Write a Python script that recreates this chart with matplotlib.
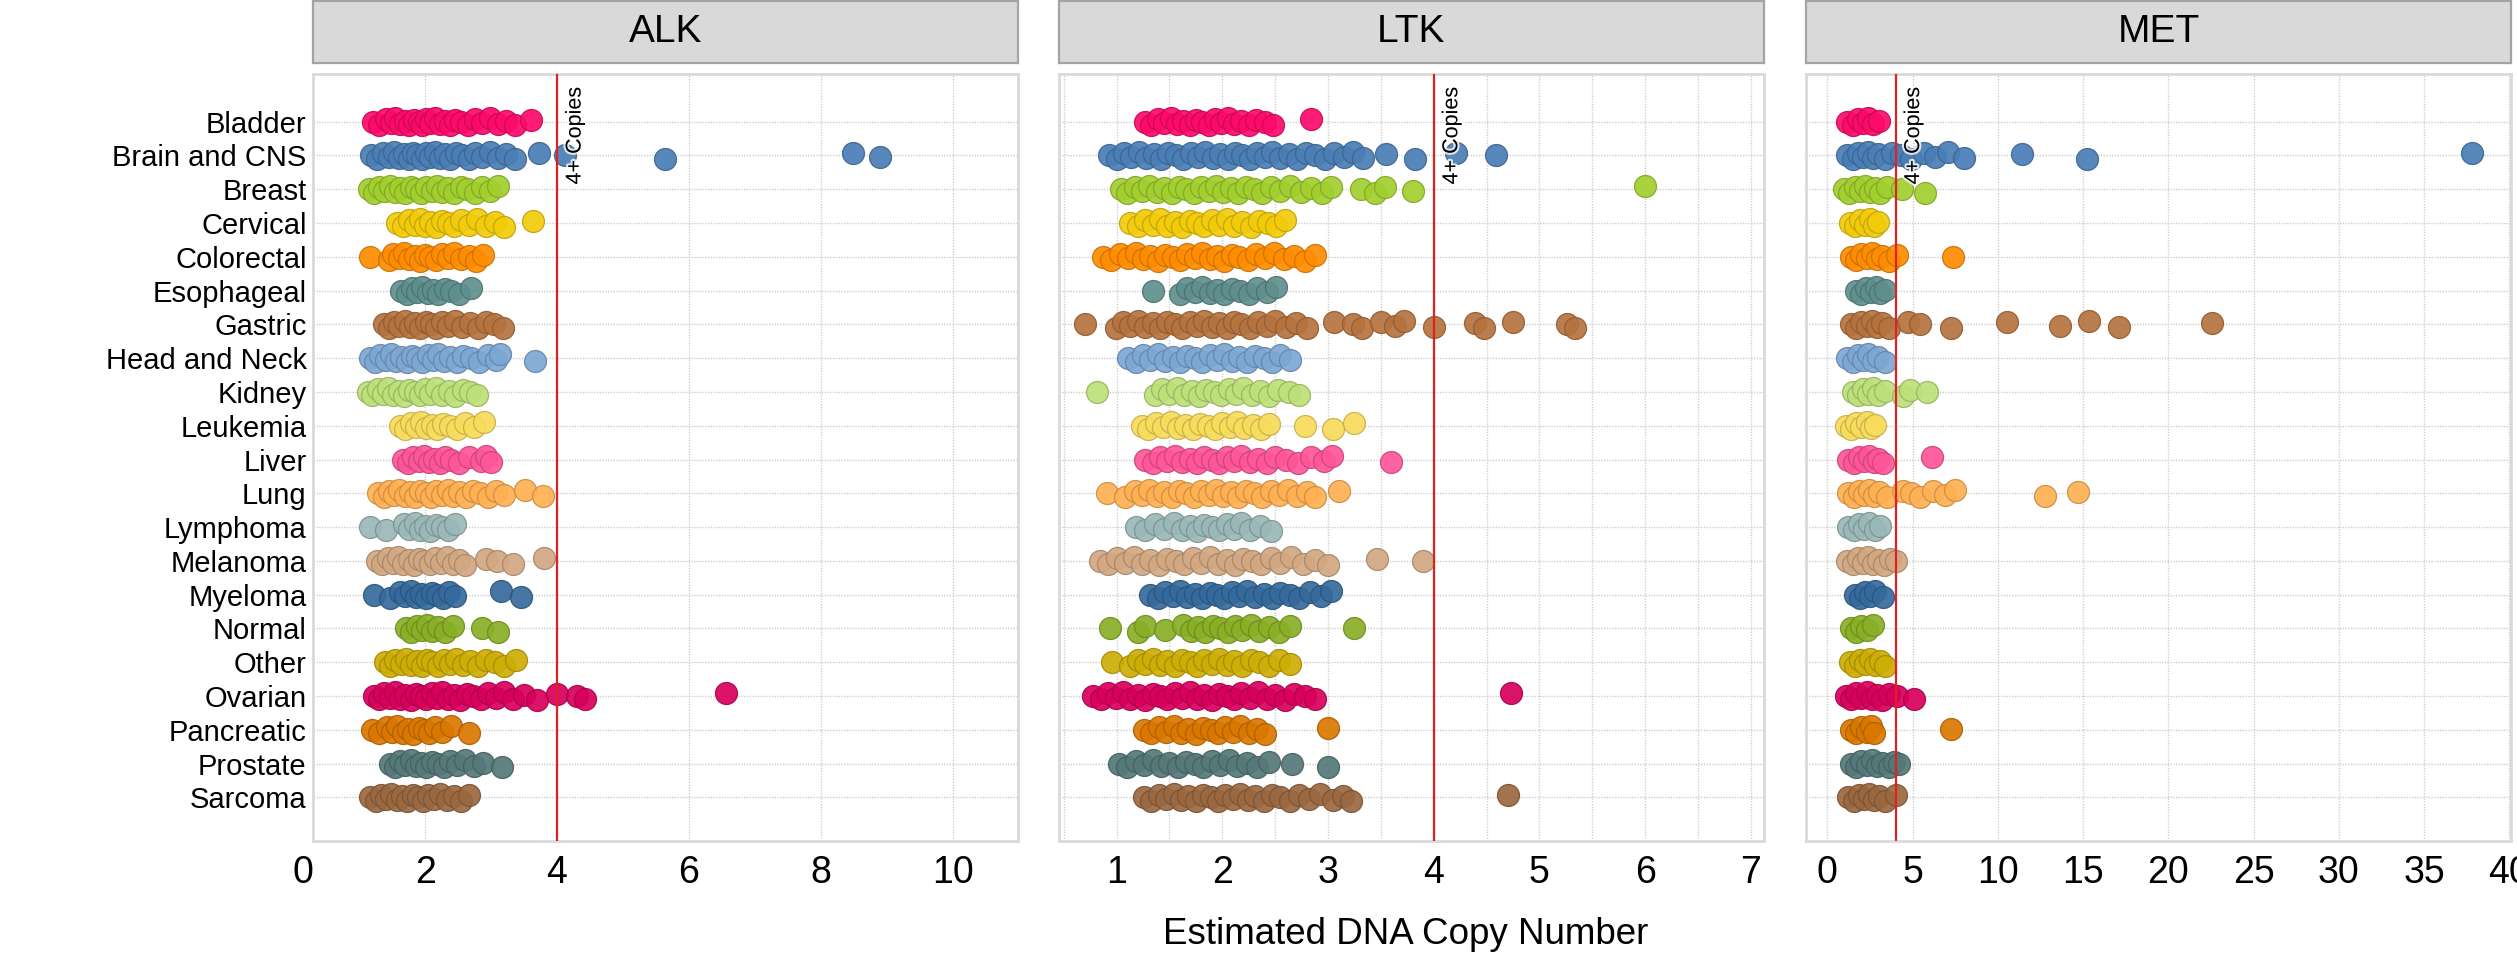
import matplotlib
matplotlib.use("Agg")
import matplotlib.pyplot as plt
import matplotlib.patheffects as pe
from matplotlib import colors as mcolors

plt.rcParams['font.family'] = ['Liberation Sans', 'DejaVu Sans']

# ---- data ----
CATEGORIES = ["Bladder", "Brain and CNS", "Breast", "Cervical", "Colorectal",
              "Esophageal", "Gastric", "Head and Neck", "Kidney", "Leukemia",
              "Liver", "Lung", "Lymphoma", "Melanoma", "Myeloma", "Normal",
              "Other", "Ovarian", "Pancreatic", "Prostate", "Sarcoma"]

GENES = ["ALK", "LTK", "MET"]
THRESHOLD = 4

ALK = {
    "Bladder": [1.21, 1.3, 1.4, 1.48, 1.55, 1.62, 1.7, 1.76, 1.83, 1.9, 1.96, 2.02, 2.08, 2.15, 2.22,
                2.3, 2.38, 2.46, 2.55, 2.65, 2.75, 2.86, 2.98, 3.1, 3.22, 3.36, 3.6],
    "Brain and CNS": [1.18, 1.27, 1.36, 1.45, 1.53, 1.6, 1.68, 1.75, 1.82, 1.88, 1.95, 2.02, 2.08, 2.15,
                      2.22, 2.3, 2.38, 2.47, 2.56, 2.66, 2.76, 2.87, 2.98, 3.1, 3.22, 3.36, 3.72, 4.12,
                      5.64, 8.49, 8.89],
    "Breast": [1.15, 1.22, 1.3, 1.38, 1.46, 1.54, 1.62, 1.7, 1.78, 1.86, 1.94, 2.02, 2.1, 2.18, 2.26,
               2.35, 2.44, 2.54, 2.64, 2.75, 2.86, 2.98, 3.1],
    "Cervical": [1.57, 1.66, 1.75, 1.84, 1.92, 2.0, 2.08, 2.16, 2.25, 2.34, 2.44, 2.55, 2.66, 2.78,
                 2.92, 3.06, 3.2, 3.64],
    "Colorectal": [1.16, 1.45, 1.52, 1.6, 1.68, 1.76, 1.84, 1.92, 2.0, 2.08, 2.16, 2.25, 2.34, 2.44,
                   2.55, 2.66, 2.77, 2.88],
    "Esophageal": [1.64, 1.72, 1.8, 1.88, 1.96, 2.04, 2.12, 2.2, 2.3, 2.4, 2.52, 2.7],
    "Gastric": [1.37, 1.45, 1.53, 1.61, 1.69, 1.77, 1.85, 1.93, 2.01, 2.09, 2.17, 2.26, 2.35, 2.45,
                2.56, 2.68, 2.8, 2.93, 3.05, 3.18],
    "Head and Neck": [1.16, 1.24, 1.32, 1.4, 1.48, 1.56, 1.64, 1.72, 1.8, 1.88, 1.96, 2.04, 2.12, 2.2,
                      2.29, 2.38, 2.48, 2.58, 2.7, 2.82, 2.95, 3.08, 3.14, 3.67],
    "Kidney": [1.13, 1.2, 1.28, 1.36, 1.44, 1.52, 1.6, 1.68, 1.76, 1.84, 1.92, 2.0, 2.08, 2.17, 2.26,
               2.36, 2.46, 2.57, 2.68, 2.78],
    "Leukemia": [1.62, 1.7, 1.78, 1.86, 1.94, 2.02, 2.1, 2.18, 2.27, 2.37, 2.48, 2.6, 2.74, 2.9],
    "Liver": [1.66, 1.74, 1.82, 1.9, 1.98, 2.06, 2.14, 2.22, 2.3, 2.4, 2.52, 2.66, 2.84, 2.92, 3.0],
    "Lung": [1.29, 1.37, 1.45, 1.53, 1.61, 1.69, 1.77, 1.85, 1.93, 2.01, 2.09, 2.17, 2.25, 2.34, 2.43,
             2.52, 2.62, 2.72, 2.83, 2.95, 3.07, 3.2, 3.51, 3.79],
    "Lymphoma": [1.17, 1.41, 1.68, 1.76, 1.84, 1.92, 2.0, 2.08, 2.16, 2.25, 2.35, 2.45],
    "Melanoma": [1.27, 1.35, 1.43, 1.51, 1.59, 1.67, 1.75, 1.83, 1.91, 1.99, 2.07, 2.15, 2.24, 2.33,
                 2.42, 2.51, 2.6, 2.93, 3.09, 3.34, 3.81],
    "Myeloma": [1.23, 1.47, 1.62, 1.7, 1.78, 1.86, 1.94, 2.02, 2.1, 2.18, 2.27, 2.36, 2.45, 3.15, 3.46],
    "Normal": [1.71, 1.79, 1.87, 1.95, 2.03, 2.11, 2.2, 2.3, 2.43, 2.87, 3.11],
    "Other": [1.39, 1.47, 1.55, 1.63, 1.71, 1.79, 1.87, 1.95, 2.03, 2.11, 2.19, 2.28, 2.37, 2.47, 2.57,
              2.68, 2.8, 2.93, 3.06, 3.2, 3.38],
    "Ovarian": [1.22, 1.3, 1.38, 1.46, 1.54, 1.62, 1.7, 1.78, 1.86, 1.94, 2.02, 2.1, 2.18, 2.26, 2.35,
                2.44, 2.53, 2.63, 2.73, 2.84, 2.95, 3.07, 3.2, 3.34, 3.5, 3.7, 4.0, 4.3, 4.42, 6.56],
    "Pancreatic": [1.19, 1.3, 1.42, 1.5, 1.58, 1.66, 1.74, 1.82, 1.9, 1.98, 2.06, 2.15, 2.25, 2.4, 2.67],
    "Prostate": [1.46, 1.54, 1.62, 1.7, 1.78, 1.86, 1.94, 2.02, 2.1, 2.19, 2.28, 2.38, 2.48, 2.6, 2.74,
                 2.88, 3.16],
    "Sarcoma": [1.17, 1.25, 1.33, 1.41, 1.49, 1.57, 1.65, 1.73, 1.81, 1.89, 1.97, 2.05, 2.14, 2.23,
                2.33, 2.44, 2.55, 2.66],
}

LTK = {
    "Bladder": [1.27, 1.33, 1.39, 1.45, 1.51, 1.57, 1.63, 1.69, 1.75, 1.81, 1.87, 1.93, 1.99, 2.05,
                2.11, 2.18, 2.25, 2.32, 2.4, 2.48, 2.84],
    "Brain and CNS": [0.93, 1.0, 1.07, 1.14, 1.21, 1.28, 1.35, 1.42, 1.49, 1.56, 1.63, 1.7, 1.77, 1.84,
                      1.91, 1.98, 2.05, 2.12, 2.19, 2.26, 2.33, 2.4, 2.47, 2.55, 2.63, 2.71, 2.79, 2.88,
                      2.97, 3.06, 3.15, 3.24, 3.33, 3.55, 3.82, 4.21, 4.59],
    "Breast": [1.04, 1.1, 1.17, 1.24, 1.31, 1.38, 1.45, 1.52, 1.59, 1.66, 1.73, 1.8, 1.87, 1.94, 2.01,
               2.08, 2.15, 2.22, 2.3, 2.38, 2.46, 2.55, 2.64, 2.74, 2.84, 2.94, 3.03, 3.31, 3.44, 3.54,
               3.8, 6.0],
    "Cervical": [1.13, 1.2, 1.27, 1.34, 1.41, 1.48, 1.55, 1.62, 1.69, 1.76, 1.83, 1.9, 1.97, 2.04,
                 2.11, 2.19, 2.27, 2.35, 2.43, 2.51, 2.59],
    "Colorectal": [0.87, 0.95, 1.03, 1.11, 1.18, 1.25, 1.32, 1.39, 1.46, 1.53, 1.6, 1.67, 1.74, 1.81,
                   1.88, 1.95, 2.02, 2.09, 2.16, 2.24, 2.32, 2.4, 2.49, 2.58, 2.68, 2.78, 2.88],
    "Esophageal": [1.34, 1.6, 1.67, 1.74, 1.81, 1.88, 1.95, 2.02, 2.09, 2.17, 2.25, 2.33, 2.42, 2.51],
    "Gastric": [0.7, 0.99, 1.06, 1.13, 1.2, 1.27, 1.34, 1.41, 1.48, 1.55, 1.62, 1.69, 1.76, 1.83, 1.9,
                1.97, 2.04, 2.11, 2.18, 2.26, 2.34, 2.42, 2.5, 2.6, 2.7, 2.8, 3.06, 3.24, 3.32, 3.5,
                3.63, 3.72, 4.0, 4.39, 4.48, 4.75, 5.26, 5.34],
    "Head and Neck": [1.11, 1.18, 1.25, 1.32, 1.39, 1.46, 1.53, 1.6, 1.67, 1.74, 1.81, 1.88, 1.95,
                      2.02, 2.09, 2.16, 2.23, 2.31, 2.39, 2.47, 2.55, 2.64],
    "Kidney": [0.81, 1.36, 1.43, 1.5, 1.57, 1.64, 1.71, 1.78, 1.85, 1.92, 1.99, 2.06, 2.13, 2.2, 2.28,
               2.36, 2.44, 2.53, 2.63, 2.73],
    "Leukemia": [1.24, 1.3, 1.37, 1.44, 1.51, 1.58, 1.65, 1.72, 1.79, 1.86, 1.93, 2.0, 2.07, 2.14,
                 2.21, 2.29, 2.37, 2.44, 2.78, 3.05, 3.25],
    "Liver": [1.27, 1.34, 1.41, 1.48, 1.55, 1.62, 1.69, 1.76, 1.83, 1.9, 1.97, 2.04, 2.11, 2.18, 2.26,
              2.34, 2.42, 2.5, 2.6, 2.72, 2.84, 2.96, 3.04, 3.6],
    "Lung": [0.91, 1.08, 1.17, 1.24, 1.31, 1.38, 1.45, 1.52, 1.59, 1.66, 1.73, 1.8, 1.87, 1.94, 2.01,
             2.08, 2.15, 2.22, 2.3, 2.38, 2.46, 2.54, 2.62, 2.71, 2.8, 2.88, 3.1],
    "Lymphoma": [1.18, 1.27, 1.36, 1.45, 1.54, 1.62, 1.69, 1.76, 1.83, 1.9, 1.97, 2.04, 2.11, 2.18,
                 2.26, 2.36, 2.46],
    "Melanoma": [0.84, 0.92, 1.0, 1.08, 1.16, 1.24, 1.32, 1.4, 1.48, 1.56, 1.64, 1.72, 1.8, 1.88, 1.96,
                 2.04, 2.12, 2.2, 2.28, 2.37, 2.46, 2.55, 2.65, 2.76, 2.88, 3.0, 3.46, 3.9],
    "Myeloma": [1.32, 1.39, 1.46, 1.53, 1.6, 1.67, 1.74, 1.81, 1.88, 1.95, 2.02, 2.09, 2.16, 2.23,
                2.31, 2.39, 2.47, 2.55, 2.64, 2.73, 2.83, 2.93, 3.03],
    "Normal": [0.94, 1.2, 1.27, 1.46, 1.63, 1.7, 1.77, 1.84, 1.91, 1.98, 2.05, 2.12, 2.19, 2.27, 2.35,
               2.44, 2.54, 2.64, 3.25],
    "Other": [0.96, 1.13, 1.2, 1.27, 1.34, 1.41, 1.48, 1.55, 1.62, 1.69, 1.76, 1.83, 1.9, 1.97, 2.04,
              2.11, 2.19, 2.27, 2.35, 2.44, 2.54, 2.64],
    "Ovarian": [0.78, 0.85, 0.92, 0.99, 1.06, 1.13, 1.2, 1.27, 1.34, 1.41, 1.48, 1.55, 1.62, 1.69,
                1.76, 1.83, 1.9, 1.97, 2.04, 2.11, 2.18, 2.26, 2.34, 2.42, 2.5, 2.59, 2.68, 2.78, 2.88,
                4.73],
    "Pancreatic": [1.26, 1.33, 1.4, 1.47, 1.54, 1.61, 1.68, 1.75, 1.82, 1.89, 1.96, 2.03, 2.1, 2.17,
                   2.25, 2.33, 2.4, 3.0],
    "Prostate": [1.02, 1.1, 1.18, 1.26, 1.34, 1.42, 1.5, 1.58, 1.66, 1.74, 1.82, 1.9, 1.98, 2.06, 2.14,
                 2.23, 2.33, 2.44, 2.66, 3.0],
    "Sarcoma": [1.26, 1.33, 1.4, 1.47, 1.54, 1.61, 1.68, 1.75, 1.82, 1.89, 1.96, 2.03, 2.1, 2.17, 2.24,
                2.31, 2.39, 2.47, 2.55, 2.64, 2.73, 2.82, 2.92, 3.05, 3.14, 3.22, 4.7],
}

MET = {
    "Bladder": [1.18, 1.5, 1.8, 2.1, 2.4, 2.7, 3.04],
    "Brain and CNS": [1.18, 1.5, 1.8, 2.1, 2.4, 2.7, 3.0, 3.4, 3.78, 4.3, 4.9, 5.65, 6.3, 7.08, 8.0,
                      11.44, 15.22, 37.84],
    "Breast": [1.0, 1.3, 1.6, 1.9, 2.2, 2.5, 2.8, 3.1, 3.5, 4.36, 5.73],
    "Cervical": [1.32, 1.6, 1.9, 2.2, 2.5, 2.75, 2.98],
    "Colorectal": [1.4, 1.7, 2.0, 2.3, 2.6, 2.9, 3.2, 3.64, 4.07, 7.4],
    "Esophageal": [1.66, 1.95, 2.25, 2.55, 2.85, 3.1, 3.38],
    "Gastric": [1.38, 1.7, 2.0, 2.3, 2.6, 2.9, 3.2, 3.64, 4.73, 5.42, 7.28, 10.55, 13.62, 15.34, 17.12,
                22.56],
    "Head and Neck": [1.18, 1.5, 1.8, 2.1, 2.4, 2.7, 3.0, 3.41],
    "Kidney": [1.52, 1.8, 2.1, 2.4, 2.7, 3.0, 3.41, 4.42, 4.87, 5.85],
    "Leukemia": [1.12, 1.4, 1.7, 2.0, 2.3, 2.55, 2.81],
    "Liver": [1.23, 1.55, 1.85, 2.15, 2.45, 2.75, 3.0, 3.24, 6.16],
    "Lung": [1.23, 1.55, 1.85, 2.15, 2.45, 2.75, 3.05, 3.5, 4.42, 4.93, 5.45, 6.22, 6.88, 7.51, 12.79,
             14.68],
    "Lymphoma": [1.23, 1.55, 1.85, 2.15, 2.45, 2.8, 3.1],
    "Melanoma": [1.18, 1.5, 1.8, 2.1, 2.4, 2.7, 3.0, 3.3, 3.65, 4.04],
    "Myeloma": [1.61, 1.9, 2.2, 2.5, 2.8, 3.24],
    "Normal": [1.4, 1.7, 2.0, 2.3, 2.69],
    "Other": [1.32, 1.6, 1.9, 2.2, 2.5, 2.8, 3.1, 3.41],
    "Ovarian": [1.12, 1.4, 1.7, 2.0, 2.3, 2.6, 2.9, 3.2, 3.6, 4.07, 5.07],
    "Pancreatic": [1.4, 1.7, 2.0, 2.3, 2.55, 2.75, 7.28],
    "Prostate": [1.4, 1.7, 2.0, 2.3, 2.6, 2.9, 3.2, 3.6, 3.9, 4.19],
    "Sarcoma": [1.23, 1.55, 1.85, 2.15, 2.45, 2.75, 3.05, 3.4, 4.04],
}

ALK_TICKS = [2, 4, 6, 8, 10]
LTK_TICKS = [1, 2, 3, 4, 5, 6, 7]
MET_TICKS = [0, 5, 10, 15, 20, 25, 30, 35, 40]

# ---- styling ----
PALETTE = {
    "Bladder": "#FC0A6A", "Brain and CNS": "#4A7EB5", "Breast": "#A2CF2E",
    "Cervical": "#F2CC0A", "Colorectal": "#FF8C00", "Esophageal": "#5F8F8D",
    "Gastric": "#B5733F", "Head and Neck": "#7DA7D3", "Kidney": "#BEE07A",
    "Leukemia": "#F8DC5C", "Liver": "#FF5599", "Lung": "#FFB052",
    "Lymphoma": "#9BB8B8", "Melanoma": "#D2A882", "Myeloma": "#356A9C",
    "Normal": "#89AF26", "Other": "#CDAE05", "Ovarian": "#D8005C",
    "Pancreatic": "#DA7700", "Prostate": "#557878", "Sarcoma": "#9A6840",
}
JITTER = [0.0, 0.1, -0.08, 0.05, -0.11, 0.08, -0.03, 0.11, -0.06]

W, H = 2517, 963
fig = plt.figure(figsize=(W / 100, H / 100), dpi=100)


def px_rect(x0, y0, w, h):
    return [x0 / W, 1 - (y0 + h) / H, w / W, h / H]


# left pixel, x limits, major ticks, minor ticks (grid only)
layout = {
    "ALK": (313, (0.30, 10.99), ALK_TICKS, []),
    "LTK": (1059, (0.455, 7.125), LTK_TICKS, [0.5, 1.5, 2.5, 3.5, 4.5, 5.5, 6.5]),
    "MET": (1806, (-1.25, 40.1), MET_TICKS, []),
}
data = {"ALK": ALK, "LTK": LTK, "MET": MET}

for k, gene in enumerate(GENES):
    x0, xlim, ticks, minor = layout[gene]

    # strip header
    hx = fig.add_axes(px_rect(x0, 1, 705, 62))
    hx.set_facecolor("#D9D9D9")
    hx.set_xticks([])
    hx.set_yticks([])
    for sp in hx.spines.values():
        sp.set_color("#A3A3A3")
        sp.set_linewidth(1.6)
    hx.text(0.5, 0.5, gene, ha="center", va="center", fontsize=28, transform=hx.transAxes)

    ax = fig.add_axes(px_rect(x0, 74, 705, 767))
    ax.set_xlim(*xlim)
    ax.set_ylim(len(CATEGORIES) - 1 + 1.29, -1.41)
    ax.set_xticks(ticks)
    ax.set_xticks(minor, minor=True)
    ax.set_yticks(range(len(CATEGORIES)))
    ax.set_yticklabels(CATEGORIES if k == 0 else [])
    ax.tick_params(axis="x", which="both", length=0, labelsize=27, pad=10)
    ax.tick_params(axis="y", length=0, labelsize=21, pad=4.5)
    ax.grid(True, which="both", color="#CFCFCF", linestyle=(0, (1, 1)), linewidth=1)
    ax.set_axisbelow(True)
    for sp in ax.spines.values():
        sp.set_color("#D9D9D9")
        sp.set_linewidth(2)

    for i, cat in enumerate(CATEGORIES):
        xs = data[gene][cat]
        ys = [i + JITTER[j % len(JITTER)] for j in range(len(xs))]
        rgb = mcolors.to_rgb(PALETTE[cat])
        edge = tuple(c * 0.8 for c in rgb)
        ax.scatter(xs, ys, s=250, color=rgb, edgecolors=[edge], linewidths=0.9,
                   alpha=0.92, zorder=3)

    ax.axvline(THRESHOLD, color="#DC2222", linewidth=1.6, zorder=4)
    ax.annotate("4+ Copies", xy=(THRESHOLD, 1), xycoords=("data", "axes fraction"),
                xytext=(13, -9.5), textcoords="offset points", rotation=90,
                ha="center", va="top", fontsize=15.5, zorder=5,
                path_effects=[pe.withStroke(linewidth=3, foreground="white", alpha=0.8)])

    if gene == "ALK":
        # the reference shows a "0" label just left of the panel edge
        ax.annotate("0", xy=(0.15, 0), xycoords=("data", "axes fraction"),
                    xytext=(0, -10), textcoords="offset points",
                    ha="center", va="top", fontsize=27, annotation_clip=False)

fig.text(1406 / W, 1 - 934 / H, "Estimated DNA Copy Number", ha="center", va="center",
         fontsize=26.5)

fig.savefig("out.png", dpi=100)
